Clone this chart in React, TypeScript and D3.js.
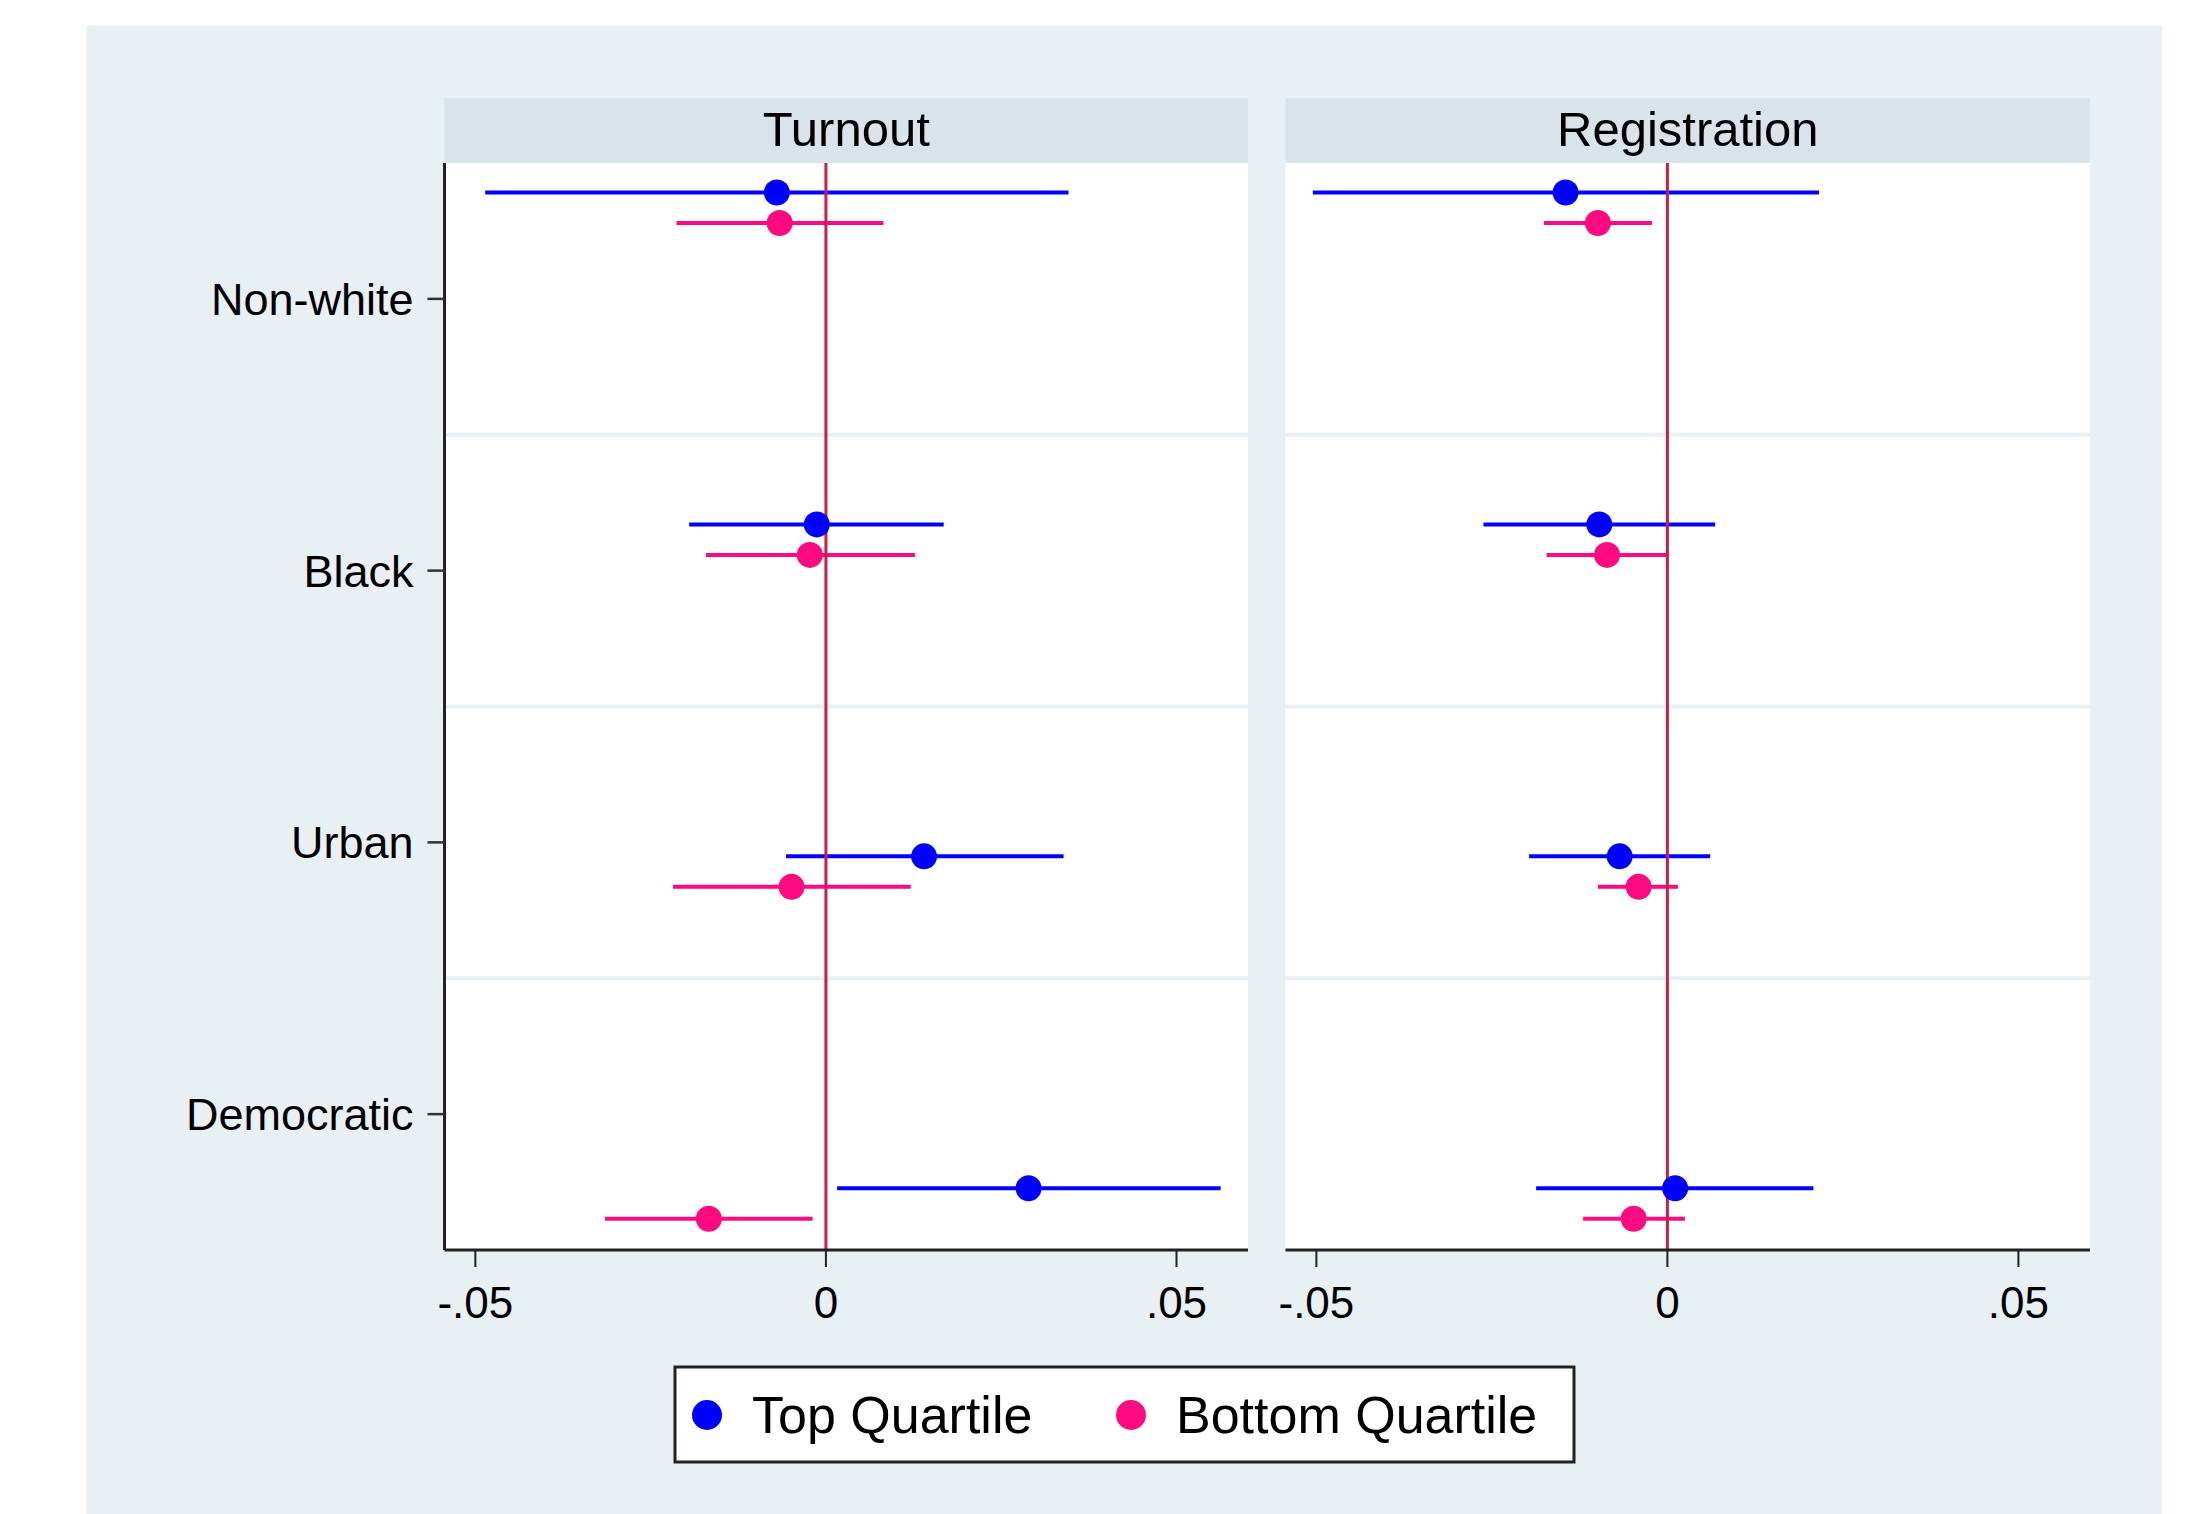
import React from 'react';
import {scaleLinear, scalePoint} from 'd3';

// categories (top to bottom)
const categories = ['Non-white', 'Black', 'Urban', 'Democratic'];
const panels = ['Turnout', 'Registration'];
const seriesNames = ['Top Quartile', 'Bottom Quartile'];
const xTicks = [-0.05, 0, 0.05];
const xTickLabels = ['-.05', '0', '.05'];

// Turnout estimates and 95% intervals
const turnoutTopEst = [-0.0070, -0.0013, 0.0140, 0.0289];
const turnoutTopLo = [-0.0486, -0.0195, -0.0057, 0.0016];
const turnoutTopHi = [0.0346, 0.0168, 0.0339, 0.0563];
const turnoutBottomEst = [-0.0066, -0.0023, -0.0049, -0.0167];
const turnoutBottomLo = [-0.0213, -0.0171, -0.0218, -0.0315];
const turnoutBottomHi = [0.0082, 0.0127, 0.0121, -0.0019];

// Registration estimates and 95% intervals
const regTopEst = [-0.0145, -0.0097, -0.0068, 0.0011];
const regTopLo = [-0.0505, -0.0262, -0.0197, -0.0187];
const regTopHi = [0.0216, 0.0068, 0.0061, 0.0208];
const regBottomEst = [-0.0099, -0.0086, -0.0041, -0.0048];
const regBottomLo = [-0.0176, -0.0172, -0.0099, -0.0120];
const regBottomHi = [-0.0022, -0.0001, 0.0015, 0.0025];

const panelData = [
    [
        {est: turnoutTopEst, lo: turnoutTopLo, hi: turnoutTopHi},
        {est: turnoutBottomEst, lo: turnoutBottomLo, hi: turnoutBottomHi},
    ],
    [
        {est: regTopEst, lo: regTopLo, hi: regTopHi},
        {est: regBottomEst, lo: regBottomLo, hi: regBottomHi},
    ],
];

const colors = ['#0000ff', '#ff0a80'];
const font = '"Liberation Sans", Arial, sans-serif';

const W = 2187, H = 1514;
const plotTop = 163, plotBottom = 1250;
const headerTop = 98;
const panelX = [[444.5, 1248], [1285.5, 2090]];
const markerOffset = [-15.25, 15.25];

const App = () => {
    let yScale = scaleLinear().domain([0.5, 4.5]).range([plotTop, plotBottom]);
    let rowScale = scalePoint<string>().domain(categories).range([207.75, 1203.5]);
    let gridVals = [1.5, 2.5, 3.5];

    return (
        <div style={{position: 'absolute', left: 0, top: 0}}>
            <svg width={W} height={H} style={{display: 'block', fontFamily: font}}>
                <rect x="0" y="0" width={W} height={H} fill="#ffffff"/>
                <rect x="86.5" y="25.5" width={2162 - 86.5} height={H - 25.5} fill="#e8f0f3"/>

                {panels.map((p, pi) => {
                    let [x0, x1] = panelX[pi];
                    let xScale = scaleLinear().domain([-0.0544, 0.0602]).range([x0, x1]);
                    return <g key={p}>
                        <rect x={x0} y={headerTop} width={x1 - x0} height={plotTop - headerTop} fill="#d8e4ea"/>
                        <text x={(x0 + x1) / 2} y={146} textAnchor="middle" fontSize="49" fill="#000">{p}</text>
                        <rect x={x0} y={plotTop} width={x1 - x0} height={plotBottom - plotTop} fill="#ffffff"/>
                        {gridVals.map(g => <line key={g} x1={x0} x2={x1} y1={yScale(g)} y2={yScale(g)}
                                                  stroke="#e8f0f3" strokeWidth="4"/>)}

                        {/* confidence intervals */}
                        {panelData[pi].map((s, si) => categories.map((c, ci) =>
                            <line key={`ci-${si}-${ci}`} x1={xScale(s.lo[ci])} x2={xScale(s.hi[ci])}
                                  y1={rowScale(c)! + markerOffset[si]} y2={rowScale(c)! + markerOffset[si]}
                                  stroke={colors[si]} strokeWidth="4"/>
                        ))}

                        <line x1={xScale(0)} x2={xScale(0)} y1={plotTop} y2={plotBottom}
                              stroke="#c81e48" strokeWidth="3"/>

                        {panelData[pi].map((s, si) => categories.map((c, ci) =>
                            <circle key={`pt-${si}-${ci}`} cx={xScale(s.est[ci])} cy={rowScale(c)! + markerOffset[si]}
                                    r="13" fill={colors[si]}/>
                        ))}

                        {/* x axis */}
                        <g className="axis">
                            <line x1={x0} x2={x1} y1={plotBottom} y2={plotBottom} stroke="#222" strokeWidth="3"/>
                            {xTicks.map((t, i) => <g key={i} transform={`translate(${xScale(t)},${plotBottom})`}>
                                <line x1="0" x2="0" y1="0" y2="17" stroke="#222" strokeWidth="2"/>
                                <text y="68" textAnchor="middle" fontSize="44" fill="#000">{xTickLabels[i]}</text>
                            </g>)}
                        </g>
                    </g>;
                })}

                {/* y axis on the first panel */}
                <g className="axis">
                    <line x1={444.5} x2={444.5} y1={plotTop} y2={plotBottom} stroke="#222" strokeWidth="3"/>
                    {categories.map((c, i) => <g key={c} transform={`translate(444.5,${yScale(i + 1)})`}>
                        <line x1="-17" x2="0" y1="0" y2="0" stroke="#333" strokeWidth="2.5"/>
                        <text x="-31" dy="16" textAnchor="end" fontSize="45" fill="#000">{c}</text>
                    </g>)}
                </g>

                {/* legend */}
                <g>
                    <rect x="675" y="1367" width="899" height="95" fill="#ffffff" stroke="#222" strokeWidth="3"/>
                    {seriesNames.map((s, i) => <g key={s} transform={`translate(${[707, 1131][i]},1415)`}>
                        <circle r="15" fill={colors[i]}/>
                        <text x="45" y="18" fontSize="52" fill="#000">{s}</text>
                    </g>)}
                </g>
            </svg>
        </div>
    );
};

export default App;
